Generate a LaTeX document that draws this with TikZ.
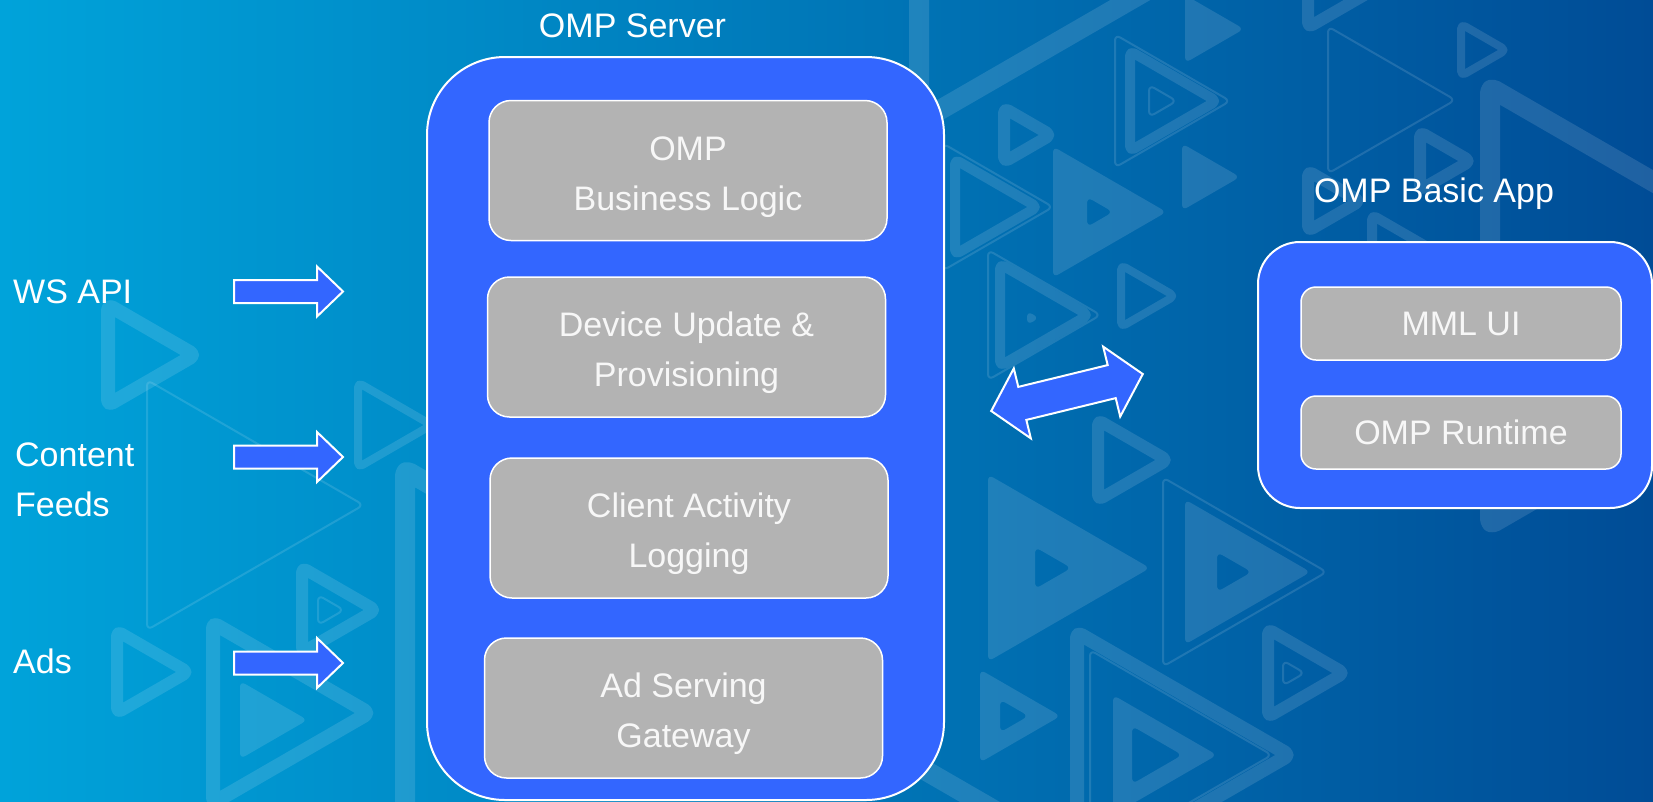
\documentclass[tikz,border=0pt]{standalone}
\usepackage{fontspec}
\setmainfont{Liberation Sans}
\usetikzlibrary{positioning}

\definecolor{bgleft}{RGB}{0,163,218}
\definecolor{bgmid}{RGB}{0,113,182}
\definecolor{bgright}{RGB}{0,76,150}
\definecolor{panelblue}{RGB}{51,102,255}
\definecolor{modulegray}{RGB}{179,179,179}
\newcommand{\slidefont}{\fontsize{34pt}{50pt}\selectfont}
\newcommand{\playpath}[3]{(#1,#2-#3/2) -- (#1+0.866*#3,#2) -- (#1,#2+#3/2) -- cycle}

\tikzstyle{panel} = [draw=white, line width=2pt, fill=panelblue]
\tikzstyle{module} = [draw=white, line width=1.5pt, fill=modulegray, rounded corners=22pt, minimum width=398pt, minimum height=140pt, align=center, text=white!94!gray, font=\slidefont, text height=86pt, text depth=7pt]
\tikzstyle{appmodule} = [draw=white, line width=1.5pt, fill=modulegray, rounded corners=15pt, minimum width=320pt, minimum height=73pt, text=white!94!gray, font=\slidefont]
\tikzstyle{caption} = [text=white, font=\slidefont, inner sep=0pt]
\tikzstyle{blockarrow} = [draw=white, line width=2pt, fill=panelblue, line join=miter]
\tikzstyle{trithin} = [draw=white, draw opacity=0.12, line width=2pt, rounded corners=6pt, line join=round]
\tikzstyle{trithick} = [draw=white, draw opacity=0.12, line width=12pt, rounded corners=5pt, line join=round]
\tikzstyle{trifill} = [fill=white, fill opacity=0.12, rounded corners=6pt]

\begin{document}
\begin{tikzpicture}[x=1pt, y=-1pt]
    \useasboundingbox (0,0) rectangle (1653,801);
    \shade[left color=bgleft, middle color=bgmid, right color=bgright] (0,0) rectangle (1653,801);
    % background play icons
    \begin{scope}
        \clip (0,0) rectangle (1653,801);
        \draw[trithick, line width=20pt] \playpath{919}{-178}{600};
        \fill[trifill] \playpath{1185}{29}{68};
        \draw[trithin] \playpath{1115}{101}{133};
        \draw[trithick, line width=10pt] \playpath{1130}{101}{100};
        \draw[trithin] \playpath{1149}{101}{32};
        \draw[trithick] \playpath{1004}{135}{54};
        \fill[trifill] \playpath{1182}{177}{67};
        \fill[trifill, even odd rule] \playpath{1053}{212}{131} \playpath{1087}{212}{30};
        \draw[trithin] \playpath{943}{207}{127};
        \draw[trithick, line width=10pt] \playpath{955}{207}{95};
        \draw[trithin] \playpath{988}{315}{130};
        \draw[trithick, line width=10pt] \playpath{1000}{315}{102};
        \fill[trifill] \playpath{1027}{318}{14};
        \draw[trithick, line width=8pt] \playpath{1121}{296}{62};
        \draw[trithick] \playpath{1098}{460}{80};
        \fill[trifill, even odd rule] \playpath{988}{568}{187} \playpath{1035}{568}{42};
        \draw[trithin] \playpath{1163}{572}{189};
        \fill[trifill, even odd rule] \playpath{1185}{572}{145} \playpath{1217}{572}{40};
        \fill[trifill, even odd rule] \playpath{980}{716}{93} \playpath{1000}{716}{33};
        \draw[trithick, line width=14pt] \playpath{1077}{755}{245};
        \draw[trithin] \playpath{1090}{755}{210};
        \fill[trifill, even odd rule] \playpath{1113}{755}{120} \playpath{1132}{755}{58};
        \draw[trithick] \playpath{1268}{673}{88};
        \draw[trithin] \playpath{1283}{673}{25};
        \draw[trithick, line width=20pt] \playpath{1490}{306}{437};
        \draw[trithin] \playpath{1328}{100}{147};
        \draw[trithick, line width=8pt] \playpath{1461}{50}{52};
        \draw[trithick] \playpath{1420}{161}{58};
        \draw[trithick] \playpath{1308}{201}{60};
        \draw[trithick] \playpath{1308}{-10}{75};
        \draw[trithick, line width=10pt] \playpath{1372}{265}{100};
        \draw[trithick, line width=14pt] \playpath{108}{355}{100};
        \draw[trithin] \playpath{147}{505}{250};
        \draw[trithick] \playpath{117}{672}{82};
        \draw[trithick, line width=14pt] \playpath{213}{713}{180};
        \fill[trifill] \playpath{240}{720}{78};
        \draw[trithick] \playpath{302}{610}{85};
        \draw[trithin] \playpath{318}{610}{30};
        \draw[trithick, line width=8pt] \playpath{358}{425}{85};
        \draw[trithick, line width=20pt] \playpath{405}{820}{700};
    \end{scope}

    % OMP server
    \node[panel, rounded corners=78pt, minimum width=517pt, minimum height=743pt] (server) at (685.5,428.5) {};
    \node[caption, above=18pt of server, xshift=-53pt] (servertitle) {OMP Server};
    \node[module] (bizlogic) at (688,170.5) {OMP\\Business Logic};
    \node[module] (devupdate) at (686.5,347) {Device Update \&\\Provisioning};
    \node[module] (activity) at (689,528) {Client Activity\\Logging};
    \node[module] (adgateway) at (683.5,708) {Ad Serving\\Gateway};

    % basic app
    \node[panel, rounded corners=42pt, minimum width=394pt, minimum height=266pt] (app) at (1455,375) {};
    \node[caption, above=31pt of app, xshift=-21pt] (apptitle) {OMP Basic App};
    \node[appmodule] (mmlui) at (1461,323.5) {MML UI};
    \node[appmodule] (runtime) at (1461,432.5) {OMP Runtime};

    % inputs
    \node[caption, anchor=base west] (wsapi) at (13,303) {WS API};
    \node[caption, anchor=north west, align=left] (feeds) at (15,443) {Content\\Feeds};
    \node[caption, anchor=base west] (ads) at (13,673) {Ads};
    \foreach \y in {291.5,457,663}
        \draw[blockarrow] (234,\y-11.5) -- (317,\y-11.5) -- (317,\y-25) -- (343,\y)
            -- (317,\y+25) -- (317,\y+11.5) -- (234,\y+11.5) -- cycle;

    % server <-> app
    \begin{scope}[shift={(1067,392.5)}, rotate=13.7]
        \draw[blockarrow] (-78,0) -- (-46,-36) -- (-46,-17) -- (46,-17) -- (46,-36) -- (78,0)
            -- (46,36) -- (46,17) -- (-46,17) -- (-46,36) -- cycle;
    \end{scope}
\end{tikzpicture}
\end{document}
